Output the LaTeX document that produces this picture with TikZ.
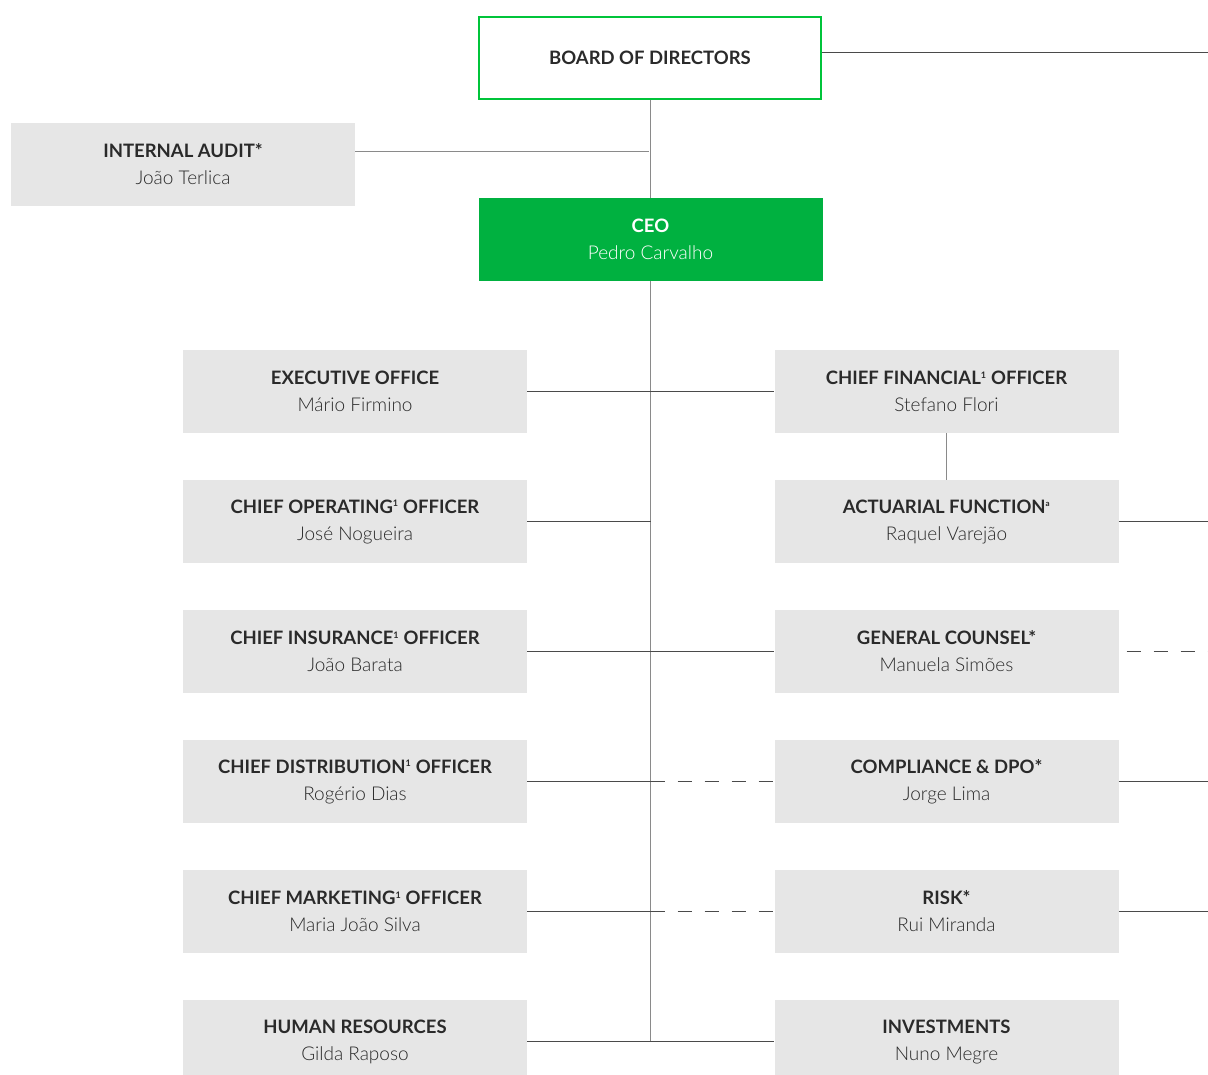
\documentclass[tikz,border=0pt]{standalone}
\usepackage{fontspec}
\setmainfont{Lato}
\newfontfamily\lightfont{Lato Light}
\definecolor{boxgray}{HTML}{E6E6E6}
\definecolor{brandgreen}{HTML}{00B140}
\definecolor{bordergreen}{RGB}{0,196,58}
\definecolor{txt}{HTML}{2A2A2A}
\definecolor{linedark}{HTML}{4A4A4A}
\definecolor{linelight}{HTML}{8A8A8A}
\begin{document}
\begin{tikzpicture}[x=1pt,y=-1pt,
  unit/.style={rectangle, fill=boxgray, minimum width=344pt, minimum height=83pt, inner sep=0pt, align=center, text=txt, font=\fontsize{19}{27}\selectfont},
  conn/.style={draw=linedark, line width=1pt},
  spine/.style={draw=linelight, line width=1pt},
  dotted link/.style={draw=linedark, line width=1pt, dash pattern=on 14pt off 13pt},
  greenframe/.style={fill=bordergreen, path picture={
      \fill[white] ([shift={(2pt,-2pt)}]path picture bounding box.north west)
        rectangle ([shift={(-2pt,2pt)}]path picture bounding box.south east);}},
]
\useasboundingbox (0,0) rectangle (1208,1075);
\clip (0,0) rectangle (1208,1075);
\newcommand{\hdr}[1]{{\fontsize{18.5}{27}\selectfont\bfseries #1}}
\newcommand{\nm}[1]{{\lightfont #1}}
\newcommand{\supone}{\textsuperscript{\fontsize{9}{9}\selectfont 1}}

% nodes
\node[unit, greenframe, minimum width=344pt, minimum height=84pt] (board) at (650,58) {\raisebox{-2pt}{\hdr{BOARD OF DIRECTORS}}};
\node[unit] (ia) at (183,164.5) {\hdr{INTERNAL AUDIT*}\\\nm{João Terlica}};
\node[unit, fill=brandgreen, text=white] (ceo) at (650.5,239.5) {\hdr{CEO}\\\nm{Pedro Carvalho}};

\node[unit] (exec) at (355,391.5) {\hdr{EXECUTIVE OFFICE}\\\nm{Mário Firmino}};
\node[unit] (coo) at (355,521.5) {\hdr{CHIEF OPERATING\supone{} OFFICER}\\\nm{José Nogueira}};
\node[unit] (cio) at (355,651.5) {\hdr{CHIEF INSURANCE\supone{} OFFICER}\\\nm{João Barata}};
\node[unit] (cdo) at (355,781.5) {\hdr{CHIEF DISTRIBUTION\supone{} OFFICER}\\\nm{Rogério Dias}};
\node[unit] (cmo) at (355,911.5) {\hdr{CHIEF MARKETING\supone{} OFFICER}\\\nm{Maria João Silva}};
\node[unit] (hr) at (355,1041.5) {\hdr{HUMAN RESOURCES}\\\nm{Gilda Raposo}};

\node[unit] (cfo) at (946.5,391.5) {\hdr{CHIEF FINANCIAL\supone{} OFFICER}\\\nm{Stefano Flori}};
\node[unit] (act) at (946.5,521.5) {\hdr{ACTUARIAL FUNCTION\textsuperscript{\fontsize{8}{8}\selectfont a}}\\\nm{Raquel Varejão}};
\node[unit] (gc) at (946.5,651.5) {\hdr{GENERAL COUNSEL*}\\\nm{Manuela Simões}};
\node[unit] (comp) at (946.5,781.5) {\hdr{COMPLIANCE \& DPO*}\\\nm{Jorge Lima}};
\node[unit] (risk) at (946.5,911.5) {\hdr{RISK*}\\\nm{Rui Miranda}};
\node[unit] (inv) at (946.5,1041.5) {\hdr{INVESTMENTS}\\\nm{Nuno Megre}};

% free ends at the right edge
\coordinate (bR) at (1208,52.5);
\coordinate (actR) at (1208,521.5);
\coordinate (gcR) at (1208,651.5);
\coordinate (compR) at (1208,781.5);
\coordinate (riskR) at (1208,911.5);
\coordinate (spineEnd) at (650.5,1041.5);

% spine
\draw[spine] (board.south -| ceo.north) -- (ceo.north);
\draw[spine] (ceo.south) -- (spineEnd);
\draw[spine] ([yshift=12.5pt]ia.east) -- ([yshift=12.5pt,xshift=-2pt]ia.east -| ceo.north);
\draw[conn] (board.east |- bR) -- (bR);

% left branches
\foreach \n in {exec,coo,cio,cdo,cmo,hr}
  \draw[conn] (\n.east) -- (\n.east -| spineEnd);
% right branches solid
\foreach \n in {cfo,gc,inv}
  \draw[conn] (\n.west -| spineEnd) -- (\n.west);
% right branches dashed
\foreach \n in {comp,risk}
  \draw[dotted link] (\n.west -| spineEnd) -- (\n.west);
% CFO to actuarial
\draw[spine] (cfo.south) -- (act.north);
% far right
\draw[conn] (act.east) -- (actR);
\draw[dotted link, dash phase=-8pt] (gc.east) -- (gcR);
\draw[conn] (comp.east) -- (compR);
\draw[conn] (risk.east) -- (riskR);
\end{tikzpicture}
\end{document}
